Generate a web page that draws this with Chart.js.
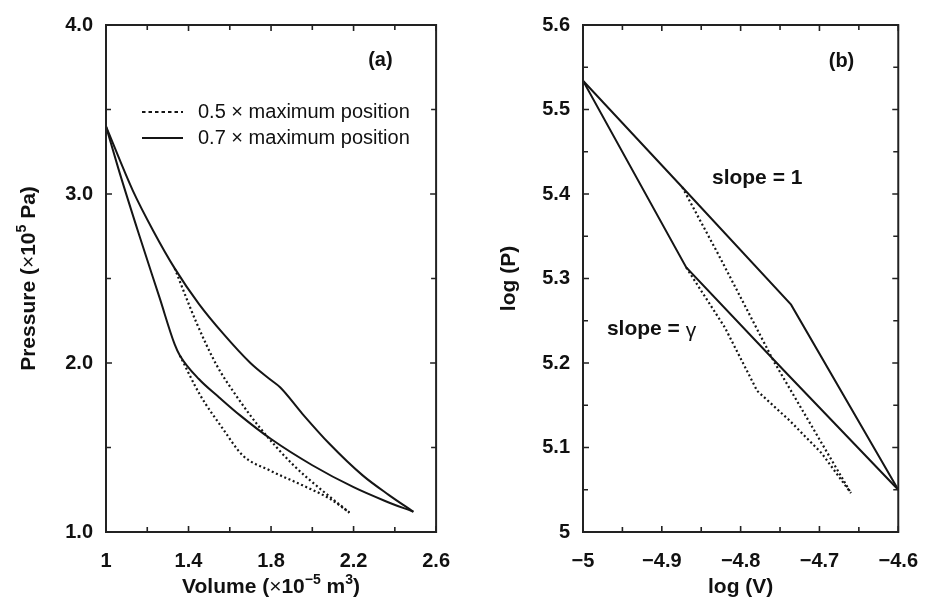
<!DOCTYPE html>
<html>
<head>
<meta charset="utf-8">
<script src="https://cdn.jsdelivr.net/npm/chart.js@4.4.0/dist/chart.umd.min.js"></script>
<style>
  body { margin: 0; background: #fff; }
  #wrap { position: relative; width: 935px; height: 602px; }
  #chartA { position: absolute; left: 0; top: 0; }
  #chartB { position: absolute; left: 467px; top: 0; }
</style>
</head>
<body>
<div id="wrap">
  <canvas id="chartA" width="467" height="602"></canvas>
  <canvas id="chartB" width="468" height="602"></canvas>
</div>
<script>
// ---- panel (a): P-V diagram (V in 1e-5 m3, P in 1e5 Pa) ----
const volUpperSolid = [1.0, 1.13, 1.23, 1.333, 1.45, 1.567, 1.70, 1.793, 1.845, 1.953, 2.083, 2.244, 2.37, 2.49];
const presUpperSolid = [3.40, 3.02, 2.78, 2.56, 2.35, 2.175, 2.0, 1.905, 1.855, 1.698, 1.522, 1.335, 1.22, 1.12];
const volLowerSolid = [1.0, 1.06, 1.16, 1.26, 1.333, 1.358, 1.45, 1.55, 1.65, 1.8, 2.0, 2.2, 2.35, 2.49];
const presLowerSolid = [3.40, 3.15, 2.76, 2.385, 2.11, 2.045, 1.905, 1.795, 1.69, 1.55, 1.395, 1.265, 1.185, 1.12];
const volUpperDot = [1.333, 1.438, 1.535, 1.632, 1.744, 1.905, 2.034, 2.18];
const presUpperDot = [2.56, 2.24, 1.99, 1.805, 1.62, 1.40, 1.26, 1.115];
const volLowerDot = [1.358, 1.454, 1.567, 1.663, 1.793, 1.953, 2.083, 2.18];
const presLowerDot = [2.045, 1.815, 1.61, 1.453, 1.365, 1.276, 1.198, 1.115];

const xTicksA = [1, 1.4, 1.8, 2.2, 2.6];
const xLabelsA = ['1', '1.4', '1.8', '2.2', '2.6'];
const xMinorA = [1.2, 1.6, 2.0, 2.4];
const yTicksA = [1, 2, 3, 4];
const yLabelsA = ['1.0', '2.0', '3.0', '4.0'];
const yMinorA = [1.5, 2.5, 3.5];

// ---- panel (b): log-log diagram ----
const logVUpperSolid = [-5.0, -4.874, -4.736, -4.6];
const logPUpperSolid = [5.534, 5.408, 5.269, 5.05];
const logVLowerSolid = [-5.0, -4.869, -4.746, -4.6];
const logPLowerSolid = [5.534, 5.313, 5.192, 5.05];
const logVUpperDot = [-4.874, -4.828, -4.758, -4.66];
const logPUpperDot = [5.408, 5.328, 5.202, 5.046];
const logVLowerDot = [-4.869, -4.82, -4.779, -4.738, -4.697, -4.66];
const logPLowerDot = [5.313, 5.242, 5.167, 5.132, 5.093, 5.046];

const xTicksB = [-5, -4.9, -4.8, -4.7, -4.6];
const xLabelsB = ['\u22125', '\u22124.9', '\u22124.8', '\u22124.7', '\u22124.6'];
const xMinorB = [-4.95, -4.85, -4.75, -4.65];
const yTicksB = [5, 5.1, 5.2, 5.3, 5.4, 5.5, 5.6];
const yLabelsB = ['5', '5.1', '5.2', '5.3', '5.4', '5.5', '5.6'];
const yMinorB = [5.05, 5.15, 5.25, 5.35, 5.45, 5.55];

const legendLabels = ['0.5 \u00d7 maximum position', '0.7 \u00d7 maximum position'];

const INK = '#151515';
const DOTS = [2, 2.6];
const LEGEND_DASH = [3.5, 3];
const FONT = '"Liberation Sans", Arial, sans-serif';

// rich text pieces: [text, weight, size, raise]
const titleVolume = [['Volume (', 'bold', 21, 0], ['\u00d7', 'normal', 21, 0], ['10', 'bold', 21, 0],
    ['\u22125', 'bold', 14, 9], [' m', 'bold', 21, 0], ['3', 'bold', 14, 9], [')', 'bold', 21, 0]];
const titlePressure = [['Pressure (', 'bold', 21, 0], ['\u00d7', 'normal', 21, 0], ['10', 'bold', 21, 0],
    ['5', 'bold', 14, 9], [' Pa)', 'bold', 21, 0]];
const titleLogV = [['log (V)', 'bold', 21, 0]];
const titleLogP = [['log (P)', 'bold', 21, 0]];

function pts(xs, ys) {
    return xs.map((x, i) => ({ x: x, y: ys[i] }));
}

function line(label, xs, ys, dashed, smooth) {
    return {
        label: label,
        data: pts(xs, ys),
        showLine: true,
        borderColor: INK,
        borderWidth: dashed ? 2.2 : 2,
        borderDash: dashed ? DOTS : [],
        pointRadius: 0,
        cubicInterpolationMode: smooth ? 'monotone' : 'default',
        tension: smooth ? 0.4 : 0,
        fill: false
    };
}

function drawRich(ctx, parts, x, y, rot) {
    ctx.save();
    ctx.translate(x, y);
    if (rot) ctx.rotate(rot);
    ctx.textBaseline = 'alphabetic';
    ctx.textAlign = 'left';
    let total = 0;
    parts.forEach(p => {
        ctx.font = p[1] + ' ' + p[2] + 'px ' + FONT;
        total += ctx.measureText(p[0]).width;
    });
    let cx = -total / 2;
    parts.forEach(p => {
        ctx.font = p[1] + ' ' + p[2] + 'px ' + FONT;
        ctx.fillText(p[0], cx, -p[3]);
        cx += ctx.measureText(p[0]).width;
    });
    ctx.restore();
}

// frame, inward ticks on all four sides, axis titles, notes and legend
const framePlugin = {
    id: 'frame',
    afterDraw(chart, args, opts) {
        const ctx = chart.ctx;
        const a = chart.chartArea;
        const xs = chart.scales.x, ys = chart.scales.y;
        ctx.save();
        ctx.strokeStyle = '#222';
        ctx.lineWidth = 2;
        ctx.strokeRect(a.left, a.top, a.right - a.left, a.bottom - a.top);
        ctx.lineWidth = 1.6;
        ctx.beginPath();
        const tickX = (vals, len) => {
            vals.forEach(v => {
                const px = xs.getPixelForValue(v);
                ctx.moveTo(px, a.bottom); ctx.lineTo(px, a.bottom - len);
                ctx.moveTo(px, a.top); ctx.lineTo(px, a.top + len);
            });
        };
        const tickY = (vals, len) => {
            vals.forEach(v => {
                const py = ys.getPixelForValue(v);
                ctx.moveTo(a.left, py); ctx.lineTo(a.left + len, py);
                ctx.moveTo(a.right, py); ctx.lineTo(a.right - len, py);
            });
        };
        tickX(opts.xMajor, 6); tickX(opts.xMinor, 5);
        tickY(opts.yMajor, 6); tickY(opts.yMinor, 5);
        ctx.stroke();

        ctx.fillStyle = '#111';
        drawRich(ctx, opts.xTitle, (a.left + a.right) / 2, 593);
        drawRich(ctx, opts.yTitle, opts.yTitleX, (a.top + a.bottom) / 2, -Math.PI / 2);

        (opts.notes || []).forEach(n => {
            drawRich(ctx, n.parts, xs.getPixelForValue(n.x), ys.getPixelForValue(n.y) + 7);
        });

        if (opts.legend) {
            const lg = opts.legend;
            ctx.font = lg.size + 'px ' + FONT;
            ctx.textAlign = 'left';
            ctx.textBaseline = 'middle';
            lg.items.forEach((it, i) => {
                const y = a.top + lg.top + i * lg.gap;
                const x0 = a.left + lg.left;
                ctx.beginPath();
                ctx.strokeStyle = INK;
                ctx.lineWidth = 2;
                ctx.setLineDash(it.dashed ? LEGEND_DASH : []);
                ctx.moveTo(x0, y); ctx.lineTo(x0 + 41, y);
                ctx.stroke();
                ctx.setLineDash([]);
                ctx.fillText(it.text, x0 + 56, y);
            });
        }
        ctx.restore();
    }
};

function axisOpts(min, max, vals, labels, width, height, tickPad) {
    return {
        type: 'linear',
        min: min,
        max: max,
        afterBuildTicks: s => { s.ticks = vals.map(v => ({ value: v })); },
        afterFit: s => {
            if (width) s.width = width;
            if (height) s.height = height;
        },
        grid: { display: false, drawTicks: false },
        border: { display: false },
        ticks: {
            color: '#111',
            padding: tickPad,
            maxRotation: 0,
            autoSkip: false,
            font: { family: FONT, size: 20, weight: 'bold' },
            callback: v => {
                const i = vals.findIndex(t => Math.abs(t - v) < 1e-6);
                return i >= 0 ? labels[i] : '';
            }
        },
        title: { display: false }
    };
}

const chartA = new Chart(document.getElementById('chartA'), {
    type: 'scatter',
    data: {
        datasets: [
            line(legendLabels[1], volUpperSolid, presUpperSolid, false, true),
            line(legendLabels[1], volLowerSolid, presLowerSolid, false, true),
            line(legendLabels[0], volUpperDot, presUpperDot, true, true),
            line(legendLabels[0], volLowerDot, presLowerDot, true, true)
        ]
    },
    options: {
        responsive: false,
        animation: false,
        layout: { padding: { top: 22, right: 30, left: 0, bottom: 0 } },
        plugins: {
            legend: { display: false },
            tooltip: { enabled: false },
            frame: {
                xMajor: xTicksA, xMinor: xMinorA, yMajor: yTicksA, yMinor: yMinorA,
                xTitle: titleVolume, yTitle: titlePressure, yTitleX: 35,
                notes: [{ parts: [['(a)', 'bold', 20, 0]], x: 2.33, y: 3.8 }],
                legend: {
                    left: 36, top: 87, gap: 26, size: 20,
                    items: [
                        { text: legendLabels[0], dashed: true },
                        { text: legendLabels[1], dashed: false }
                    ]
                }
            }
        },
        scales: {
            x: axisOpts(1, 2.6, xTicksA, xLabelsA, 0, 70, 17),
            y: axisOpts(1, 4, yTicksA, yLabelsA, 106, 0, 13)
        }
    },
    plugins: [framePlugin]
});

const chartB = new Chart(document.getElementById('chartB'), {
    type: 'scatter',
    data: {
        datasets: [
            line('upper', logVUpperSolid, logPUpperSolid, false, false),
            line('lower', logVLowerSolid, logPLowerSolid, false, false),
            line('upper dotted', logVUpperDot, logPUpperDot, true, false),
            line('lower dotted', logVLowerDot, logPLowerDot, true, false)
        ]
    },
    options: {
        responsive: false,
        animation: false,
        layout: { padding: { top: 22, right: 26, left: 0, bottom: 0 } },
        plugins: {
            legend: { display: false },
            tooltip: { enabled: false },
            frame: {
                xMajor: xTicksB, xMinor: xMinorB, yMajor: yTicksB, yMinor: yMinorB,
                xTitle: titleLogV, yTitle: titleLogP, yTitleX: 48,
                notes: [
                    { parts: [['(b)', 'bold', 20, 0]], x: -4.672, y: 5.559 },
                    { parts: [['slope = 1', 'bold', 21, 0]], x: -4.779, y: 5.42 },
                    { parts: [['slope = ', 'bold', 21, 0], ['\u03b3', 'normal', 21, -2]], x: -4.913, y: 5.241 }
                ]
            }
        },
        scales: {
            x: axisOpts(-5, -4.6, xTicksB, xLabelsB, 0, 70, 17),
            y: axisOpts(5, 5.6, yTicksB, yLabelsB, 116, 0, 13)
        }
    },
    plugins: [framePlugin]
});
</script>
</body>
</html>
